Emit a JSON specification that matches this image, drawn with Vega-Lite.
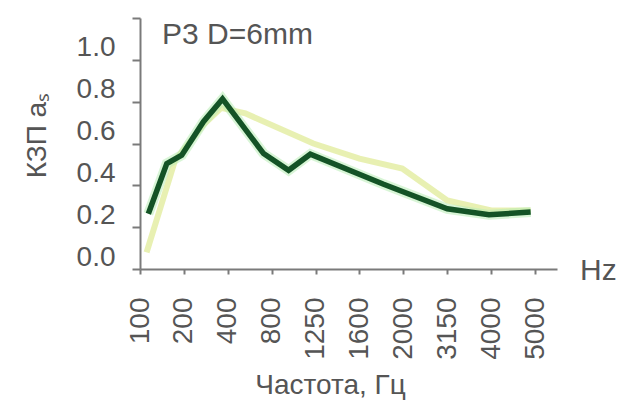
{
  "$schema": "https://vega.github.io/schema/vega-lite/v6.json",
  "autosize": "none",
  "padding": {"left": 140, "top": 18, "right": 60, "bottom": 131},
  "width": 417,
  "height": 251,
  "background": "white",
  "config": {
    "view": {"stroke": null},
    "font": "Liberation Sans",
    "axis": {"domainColor": "#7a7a7a", "tickColor": "#7a7a7a", "labelColor": "#555555", "titleColor": "#555555", "grid": false, "labelFont": "Liberation Sans", "titleFont": "Liberation Sans", "titleFontWeight": "normal"}
  },
  "title": {
    "text": "P3 D=6mm",
    "anchor": "start",
    "frame": "group",
    "fontSize": 30,
    "fontWeight": "normal",
    "font": "Liberation Sans",
    "color": "#555555",
    "baseline": "alphabetic",
    "offset": 0,
    "dx": 22,
    "dy": 57
  },
  "datasets": {
    "curves": [
      {"series": "light", "pos": 0.3, "value": 0.08},
      {"series": "light", "pos": 1.6, "value": 0.52},
      {"series": "light", "pos": 2.9, "value": 0.69},
      {"series": "light", "pos": 3.7, "value": 0.77},
      {"series": "light", "pos": 4.8, "value": 0.744},
      {"series": "light", "pos": 7.9, "value": 0.6},
      {"series": "light", "pos": 10.0, "value": 0.528},
      {"series": "light", "pos": 11.95, "value": 0.48},
      {"series": "light", "pos": 14.0, "value": 0.328},
      {"series": "light", "pos": 16.0, "value": 0.28},
      {"series": "light", "pos": 17.8, "value": 0.28},
      {"series": "dark", "pos": 0.38, "value": 0.264},
      {"series": "dark", "pos": 1.22, "value": 0.504},
      {"series": "dark", "pos": 1.9, "value": 0.544},
      {"series": "dark", "pos": 2.89, "value": 0.704},
      {"series": "dark", "pos": 3.76, "value": 0.813},
      {"series": "dark", "pos": 5.63, "value": 0.552},
      {"series": "dark", "pos": 6.77, "value": 0.472},
      {"series": "dark", "pos": 7.76, "value": 0.549},
      {"series": "dark", "pos": 11.1, "value": 0.405},
      {"series": "dark", "pos": 14.0, "value": 0.288},
      {"series": "dark", "pos": 15.9, "value": 0.259},
      {"series": "dark", "pos": 17.8, "value": 0.272}
    ]
  },
  "layer": [
    {
      "data": {"name": "curves"},
      "transform": [{"filter": "datum.series == 'light'"}],
      "mark": {"type": "line", "color": "#e6eeaa", "strokeWidth": 6, "opacity": 0.9},
      "encoding": {
        "x": {
          "field": "pos", "type": "quantitative",
          "scale": {"domain": [0, 19], "nice": false, "zero": false},
          "axis": {
            "values": [0,1,2,3,4,5,6,7,8,9,10,11,12,13,14,15,16,17,18,19],
            "labelExpr": "datum.value % 2 == 0 && datum.value <= 18 ? ['100','200','400','800','1250','1600','2000','3150','4000','5000'][datum.value / 2] : ''",
            "labelAngle": -90,
            "labelFontSize": 28,
            "labelPadding": 23,
            "labelOverlap": false,
            "labelFlush": false,
            "tickSize": 5,
            "tickWidth": 2,
            "domainWidth": 2,
            "title": "Частота, Гц",
            "titleFontSize": 28,
            "titleX": 190,
            "titleY": 124,
            "titleAlign": "center",
            "titleBaseline": "alphabetic"
          }
        },
        "y": {
          "field": "value", "type": "quantitative",
          "scale": {"domain": [0, 1.2], "nice": false},
          "axis": {
            "values": [0, 0.2, 0.4, 0.6, 0.8, 1.0, 1.2],
            "labelExpr": "datum.value > 1.05 ? '' : format(datum.value, '.1f')",
            "labelFontSize": 28,
            "labelPadding": 17,
            "labelOffset": -12,
            "tickSize": 8,
            "tickWidth": 2,
            "domainWidth": 2,
            "title": "КЗП aₛ",
            "titleFontSize": 28,
            "titleAngle": 270,
            "titleX": -95,
            "titleY": 117,
            "titleAlign": "center",
            "titleBaseline": "alphabetic"
          }
        }
      }
    },
    {
      "data": {"name": "curves"},
      "transform": [{"filter": "datum.series == 'dark'"}],
      "mark": {"type": "line", "color": "#b8ecb4", "strokeWidth": 10, "opacity": 0.55},
      "encoding": {
        "x": {"field": "pos", "type": "quantitative"},
        "y": {"field": "value", "type": "quantitative"}
      }
    },
    {
      "data": {"name": "curves"},
      "transform": [{"filter": "datum.series == 'dark'"}],
      "mark": {"type": "line", "color": "#145326", "strokeWidth": 5.5},
      "encoding": {
        "x": {"field": "pos", "type": "quantitative"},
        "y": {"field": "value", "type": "quantitative"}
      }
    },
    {
      "data": {"values": [{"unit": "Hz"}]},
      "mark": {"type": "text", "align": "left", "baseline": "middle", "fontSize": 30, "color": "#555555", "font": "Liberation Sans", "dy": 2},
      "encoding": {
        "x": {"datum": 20.05, "type": "quantitative"},
        "y": {"datum": 0, "type": "quantitative"},
        "text": {"field": "unit"}
      }
    }
  ]
}
